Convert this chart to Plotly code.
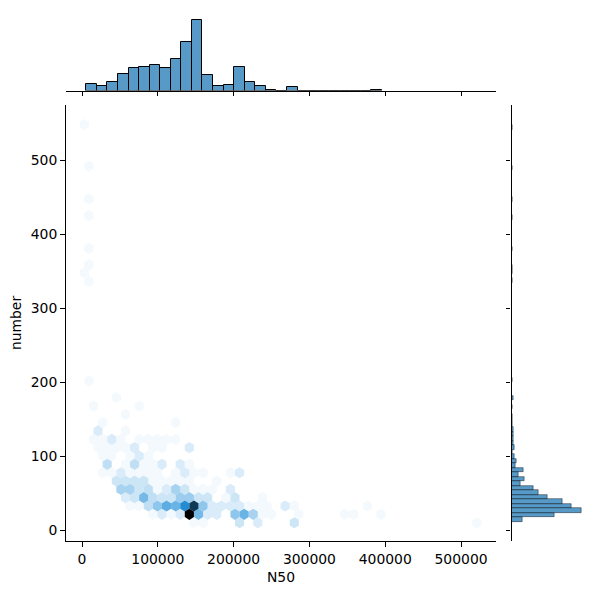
import colorsys
import plotly.graph_objects as go

# Hexbin cells, one list per row of the hexagonal grid
row_number = [10.5, 21.8, 33, 44.3, 55.5, 66.8, 78, 89.3, 100.6, 111.8, 123, 134.4,
              145.6, 156.9, 168, 179.4, 202, 336, 347.9, 358.8, 380.8, 425, 447.5, 491.6, 548]
row_n50 = [
    [147620, 159660, 207820, 231900, 280060, 520860],
    [93440, 105480, 117520, 129560, 141600, 153640, 165680, 177720, 201800, 213840, 225880, 237920, 249960, 286080, 346280, 358320, 394440],
    [63340, 75380, 87420, 99460, 111500, 123540, 135580, 147620, 159660, 171700, 183740, 195780, 207820, 219860, 231900, 243940, 268020, 280060, 376380],
    [57320, 69360, 81400, 93440, 105480, 117520, 129560, 141600, 153640, 165680, 189760, 201800, 237920],
    [51300, 63340, 75380, 87420, 99460, 111500, 123540, 135580, 147620, 159660, 171700, 195780],
    [45280, 57320, 69360, 81400, 93440, 105480, 117520, 129560, 141600, 177720],
    [27220, 39260, 51300, 63340, 75380, 87420, 99460, 123540, 135580, 147620, 159660, 195780, 207820],
    [33240, 57320, 69360, 81400, 93440, 105480, 129560, 141600],
    [27220, 39260, 63340, 75380, 87420],
    [21200, 33240, 45280, 57320, 69360, 93440, 105480, 141600],
    [15180, 27220, 39260, 51300, 75380, 87420, 99460, 111500, 123540],
    [21200, 57320],
    [27220, 123540],
    [57320],
    [15180, 75380],
    [45280],
    [9160],
    [9160],
    [3140],
    [9160],
    [9160],
    [9160],
    [9160],
    [9160],
    [3140],
]
row_count = [
    [1, 1, 4, 3, 4, 1],
    [1, 3, 1, 3, 35, 11, 3, 3, 9, 12, 7, 1, 1, 1, 1, 1, 1],
    [1, 1, 5, 9, 13, 12, 18, 28, 9, 3, 3, 3, 3, 1, 1, 1, 3, 1, 1],
    [3, 4, 11, 5, 4, 4, 8, 8, 4, 4, 1, 4, 1],
    [7, 7, 4, 5, 1, 3, 7, 4, 1, 1, 1, 3],
    [4, 4, 4, 4, 1, 1, 1, 1, 1, 1],
    [1, 1, 3, 1, 1, 1, 1, 1, 3, 1, 1, 1, 3],
    [5, 1, 5, 1, 1, 3, 3, 1],
    [1, 1, 1, 3, 1],
    [1, 1, 1, 1, 3, 1, 1, 3],
    [1, 1, 3, 1, 1, 1, 1, 1, 1],
    [3, 1],
    [1, 1],
    [1],
    [1, 1],
    [1],
    [1],
    [1],
    [1],
    [1],
    [1],
    [1],
    [1],
    [1],
    [1],
]
hex_half_width = 6020
hex_radius = 7.5

# Top marginal histogram (N50)
n50_bin_start = 5700
n50_bin_width = 13930
n50_hist = [9, 6, 12, 23, 30, 32, 34, 31, 42, 65, 96, 21, 6, 8, 32, 11, 6, 1, 0, 5,
            0, 0, 0, 0, 0, 0, 0, 1]

# Right marginal histogram (number)
number_bin_start = 11.9
number_bin_width = 6.08
number_hist = [13, 52, 84, 73, 62, 44, 33, 26, 11, 16, 9, 14, 5, 6, 4, 1, 4, 2, 2, 3,
               3, 1, 1, 1, 0, 1, 0, 2, 0, 0, 0, 1]
number_hist_sparse_bins = [53, 55, 56, 60, 67, 71, 78, 87]

x_ticks = [0, 100000, 200000, 300000, 400000, 500000]
y_ticks = [0, 100, 200, 300, 400, 500]
max_count = 35

BAR_FILL = "rgba(31,119,180,0.75)"


def count_colour(c):
    h, _, s = colorsys.rgb_to_hls(31 / 255, 119 / 255, 180 / 255)
    r, g, b = colorsys.hls_to_rgb(h, 1 - c / max_count, s)
    return f"rgb({r*255:.0f},{g*255:.0f},{b*255:.0f})"


fig = go.Figure()

levels = sorted({c for row in row_count for c in row})
for level in levels:
    xs, ys = [], []
    for yc, row_x, row_c in zip(row_number, row_n50, row_count):
        for xc, c in zip(row_x, row_c):
            if c != level:
                continue
            w, r = hex_half_width, hex_radius
            xs += [xc, xc + w, xc + w, xc, xc - w, xc - w, xc, None]
            ys += [yc + r, yc + r / 2, yc - r / 2, yc - r, yc - r / 2, yc + r / 2, yc + r, None]
    fig.add_trace(go.Scatter(x=xs, y=ys, mode="lines", fill="toself",
                             fillcolor=count_colour(level), line=dict(width=0),
                             xaxis="x", yaxis="y", hoverinfo="skip", showlegend=False))

fig.add_trace(go.Bar(
    x=[n50_bin_start + (i + 0.5) * n50_bin_width for i in range(len(n50_hist))],
    y=n50_hist, width=n50_bin_width,
    marker=dict(color=BAR_FILL, line=dict(color="black", width=1)),
    xaxis="x2", yaxis="y2", showlegend=False))

bins_right = list(range(len(number_hist))) + number_hist_sparse_bins
vals_right = number_hist + [1] * len(number_hist_sparse_bins)
fig.add_trace(go.Bar(
    y=[number_bin_start + (i + 0.5) * number_bin_width for i in bins_right],
    x=vals_right, width=number_bin_width, orientation="h",
    marker=dict(color=BAR_FILL, line=dict(color="rgba(0,0,0,0.6)", width=0.7)),
    xaxis="x3", yaxis="y3", showlegend=False))

XR = [-21100, 546100]
YR = [-14.2, 574.3]
font = dict(family="DejaVu Sans", size=13.9, color="black")
tick = dict(ticks="outside", ticklen=4.9, tickwidth=1.1, tickcolor="black",
            showline=True, linecolor="black", linewidth=1.1, showgrid=False, zeroline=False)

fig.update_layout(
    width=600, height=600, margin=dict(l=0, r=0, t=0, b=0),
    paper_bgcolor="white", plot_bgcolor="white", font=font, bargap=0,
    showlegend=False,
    xaxis=dict(domain=[66 / 600, 496 / 600], range=XR, anchor="y",
               tickvals=x_ticks, ticktext=[str(v) for v in x_ticks],
               title=dict(text="N50", standoff=6, font=font), tickfont=font, **tick),
    yaxis=dict(domain=[59 / 600, 495 / 600], range=YR, anchor="x",
               tickvals=y_ticks, ticktext=[str(v) for v in y_ticks],
               title=dict(text="number", standoff=5, font=font), tickfont=font, **tick),
    xaxis2=dict(domain=[66 / 600, 496 / 600], range=XR, anchor="y2",
                tickvals=x_ticks, showticklabels=False, **tick),
    yaxis2=dict(domain=[509.5 / 600, 584 / 600], range=[0, 100.8], anchor="x2", visible=False),
    xaxis3=dict(domain=[511.5 / 600, 584.5 / 600], range=[0, 88.2], anchor="y3", visible=False),
    yaxis3=dict(domain=[59 / 600, 495 / 600], range=YR, anchor="x3",
                tickvals=y_ticks, showticklabels=False, **tick),
)

fig.write_html("out.html", config={"displayModeBar": False},
               post_script="document.body.style.margin='0';")
